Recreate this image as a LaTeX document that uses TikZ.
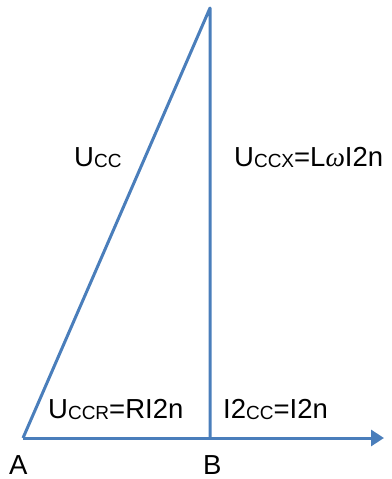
\documentclass[tikz,border=0pt]{standalone}
\usepackage{fontspec}
\setmainfont{Liberation Sans}
\newfontfamily\omegafont{Liberation Serif}
\usetikzlibrary{arrows.meta}
\definecolor{vecblue}{HTML}{4A7EBB}
\newcommand{\sbs}[1]{\raisebox{-1pt}{\fontsize{19}{19}\selectfont #1}}
\begin{document}
\begin{tikzpicture}[x=1pt,y=-1pt,
  vec/.style={draw=vecblue,line width=3pt},
  lbl/.style={anchor=base west,inner sep=0pt,font=\fontsize{27.5}{27.5}\selectfont}]
\useasboundingbox (0,0) rectangle (391,479);
\coordinate (A) at (23,438);
\coordinate (B) at (210,438);
\coordinate (T) at (210,8);
\coordinate (E) at (384,438);
\draw[vec,line join=round] (A) -- (T) -- (B);
\draw[vec,-{Triangle[length=13pt,width=16pt]}] (A) -- (E);
\node[lbl] (ucc) at (74,166) {U\sbs{CC}};
\node[lbl] (uccx) at (234,166) {U\sbs{CCX}=L{\omegafont\itshape ω}I2n};
\node[lbl] (uccr) at (48,418) {U\sbs{CCR}=RI2n};
\node[lbl] (i2cc) at (223,418) {I2\sbs{CC}=I2n};
\node[lbl] (la) at (9,474) {A};
\node[lbl] (lb) at (203,474) {B};
\end{tikzpicture}
\end{document}
